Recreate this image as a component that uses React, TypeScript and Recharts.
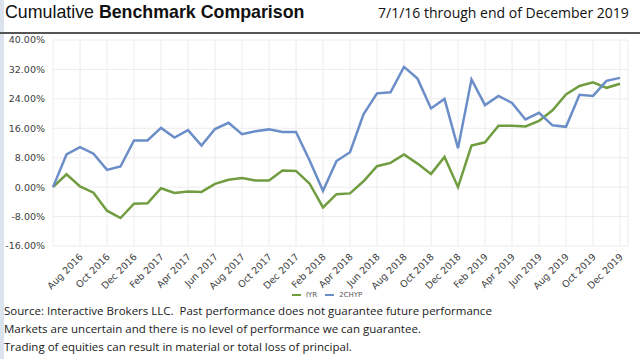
import React from 'react';
import { LineChart, Line, XAxis, YAxis, CartesianGrid } from 'recharts';

const MONTHS = [
  `Jun 2016`, `Jul 2016`, `Aug 2016`, `Sep 2016`, `Oct 2016`, `Nov 2016`, `Dec 2016`,
  `Jan 2017`, `Feb 2017`, `Mar 2017`, `Apr 2017`, `May 2017`, `Jun 2017`, `Jul 2017`,
  `Aug 2017`, `Sep 2017`, `Oct 2017`, `Nov 2017`, `Dec 2017`, `Jan 2018`, `Feb 2018`,
  `Mar 2018`, `Apr 2018`, `May 2018`, `Jun 2018`, `Jul 2018`, `Aug 2018`, `Sep 2018`,
  `Oct 2018`, `Nov 2018`, `Dec 2018`, `Jan 2019`, `Feb 2019`, `Mar 2019`, `Apr 2019`,
  `May 2019`, `Jun 2019`, `Jul 2019`, `Aug 2019`, `Sep 2019`, `Oct 2019`, `Nov 2019`,
  `Dec 2019`,
];

const IYR = [
  0, 3.5, 0.2, -1.5, -6.4, -8.4, -4.5, -4.4, -0.3, -1.6, -1.2, -1.3, 0.9, 2.0, 2.5,
  1.8, 1.8, 4.5, 4.4, 1.0, -5.5, -1.9, -1.7, 1.6, 5.7, 6.6, 8.9, 6.4, 3.6, 8.2, 0,
  11.3, 12.2, 16.7, 16.7, 16.5, 18.0, 20.9, 25.2, 27.5, 28.5, 27.0, 28.1,
];

const CHYP = [
  0, 8.9, 10.9, 9.1, 4.7, 5.6, 12.7, 12.7, 16.1, 13.5, 15.5, 11.3, 15.8, 17.5, 14.4,
  15.2, 15.7, 15.0, 15.0, 7.3, -1.0, 7.1, 9.5, 19.8, 25.5, 25.8, 32.7, 29.5, 21.4,
  24.0, 10.6, 29.3, 22.3, 24.8, 22.9, 18.4, 20.2, 16.8, 16.4, 25.1, 24.8, 28.9, 29.7,
];

const Y_TICKS = [-16, -8, 0, 8, 16, 24, 32, 40];

const GREEN = `#6f9d3f`;
const BLUE = `#6b8ec8`;

const data = MONTHS.map((m, i) => ({ month: m, IYR: IYR[i], CHYP: CHYP[i] }));

const AxisFont = `"DejaVu Sans", sans-serif`;

const RotatedTick = (props) => {
  const { x, y, payload, index } = props;
  if (payload.index === 0 || index === 0) return null;
  return (
    <g transform={`translate(${x},${y})`}>
      <text
        x={0}
        y={0}
        dy={5}
        textAnchor="end"
        transform="rotate(-45)"
        fontSize={9.5}
        fontFamily={AxisFont}
        fill="#404040"
      >
        {payload.value}
      </text>
    </g>
  );
};

const App: React.FC = () => {
  return (
    <div style={{ position: `absolute`, left: 0, top: 0, width: 640, height: 359, background: `#fff`, overflow: `hidden` }}>
      <div style={{ position: `absolute`, left: 0, top: 0, width: 4, height: 359, background: `#dbe4ee` }} />
      <div
        style={{
          position: `absolute`,
          left: 5,
          top: 2,
          fontFamily: `"Liberation Sans", Arial, sans-serif`,
          fontSize: 17.8,
          color: `#111`,
          whiteSpace: `nowrap`,
        }}
      >
        Cumulative <b>Benchmark Comparison</b>
      </div>
      <div
        style={{
          position: `absolute`,
          left: 378,
          top: 3,
          fontFamily: `"Open Sans", sans-serif`,
          fontSize: 14,
          color: `#111`,
          whiteSpace: `nowrap`,
        }}
      >
        7/1/16 through end of December 2019
      </div>
      <div style={{ position: `absolute`, left: 0, top: 32, width: 640, height: 2, background: `#555` }} />

      <div style={{ position: `absolute`, left: 0, top: 0 }}>
        <LineChart width={640} height={300} data={data} margin={{ top: 40, right: 12, left: 0, bottom: 20 }}>
          <CartesianGrid stroke="#ececec" strokeWidth={1} />
          <XAxis
            dataKey="month"
            interval={1}
            tick={<RotatedTick />}
            tickLine={false}
            axisLine={false}
            height={34}
            padding={{ left: 0, right: 8 }}
          />
          <YAxis
            domain={[-16, 40]}
            ticks={Y_TICKS}
            tickFormatter={(v) => `${v.toFixed(2)}%`}
            tickLine={false}
            axisLine={false}
            width={53}
            tick={{ fontSize: 9.5, fontFamily: AxisFont, fill: `#404040` }}
          />
          <Line type="linear" dataKey="IYR" stroke={GREEN} strokeWidth={2.5} dot={false} isAnimationActive={false} />
          <Line type="linear" dataKey="CHYP" name="2CHYP" stroke={BLUE} strokeWidth={2.5} dot={false} isAnimationActive={false} />
        </LineChart>
      </div>

      <div
        style={{
          position: `absolute`,
          left: 292,
          top: 291,
          display: `flex`,
          alignItems: `center`,
          fontFamily: AxisFont,
          fontSize: 7,
          color: `#555`,
        }}
      >
        <span style={{ display: `inline-block`, width: 9, height: 2, background: GREEN, marginRight: 5 }} />
        <span style={{ marginRight: 8 }}>IYR</span>
        <span style={{ display: `inline-block`, width: 9, height: 2, background: BLUE, marginRight: 5 }} />
        <span>2CHYP</span>
      </div>

      <div
        style={{
          position: `absolute`,
          left: 4,
          top: 302,
          fontFamily: `"Open Sans", sans-serif`,
          fontSize: 11.5,
          lineHeight: `18px`,
          color: `#1a1a1a`,
          whiteSpace: `nowrap`,
        }}
      >
        <div>Source: Interactive Brokers LLC.&nbsp; Past performance does not guarantee future performance</div>
        <div>Markets are uncertain and there is no level of performance we can guarantee.</div>
        <div>Trading of equities can result in material or total loss of principal.</div>
      </div>
    </div>
  );
};

export default App;
